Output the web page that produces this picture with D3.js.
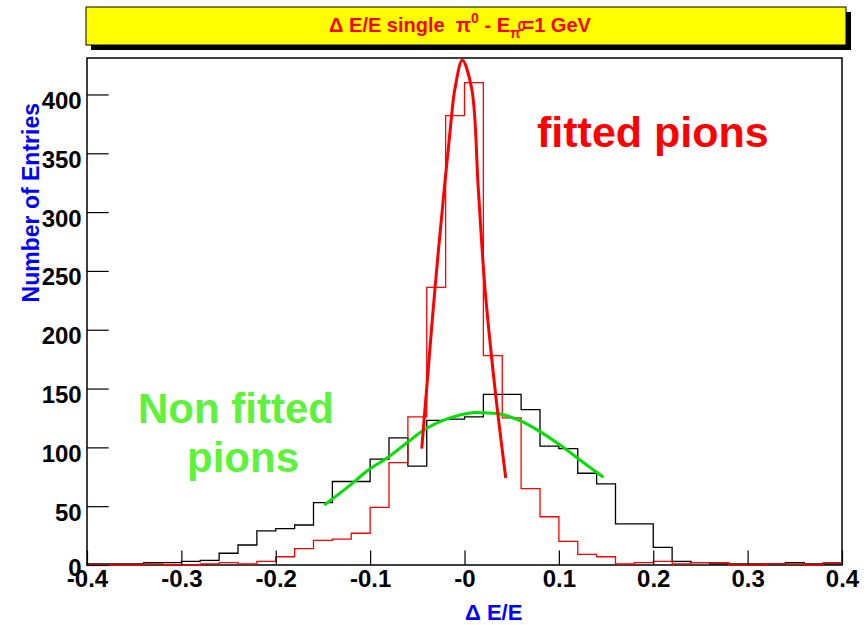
<!DOCTYPE html>
<html><head><meta charset="utf-8">
<script src="https://cdn.jsdelivr.net/npm/d3@7"></script>
<style>
body{margin:0;background:#fff}
svg{display:block}
text{font-family:"Liberation Sans",Arial,Helvetica,sans-serif;font-weight:bold}
</style>
</head><body>
<svg id="c" width="868" height="625"></svg>
<script>
// ---- data ----
const binEdges=[-0.40,-0.38,-0.36,-0.34,-0.32,-0.30,-0.28,-0.26,-0.24,-0.22,-0.20,-0.18,-0.16,-0.14,-0.12,-0.10,-0.08,-0.06,-0.04,-0.02,0.00,0.02,0.04,0.06,0.08,0.10,0.12,0.14,0.16,0.18,0.20,0.22,0.24,0.26,0.28,0.30,0.32,0.34,0.36,0.38,0.40];
const nonFittedCounts=[1,1,1,2,2,3,4,10,17,29,31,34,53,71,71,90,108,84,123,124,126,145,145,132,101,99,78,69,35,35,15,3,2,1,1,1,1,2,1,1];
const fittedCounts=[0,0,0,1,0,0,1,2,1,3,7,14,21,22,27,49,87,126,236,382,410,178,125,65,41,20,9,7,1,2,3,1,2,2,0,0,1,1,0,2];
const redFitX=[-0.0453,-0.0401,-0.0313,-0.0214,-0.0143,-0.0101,-0.0023,0.0076,0.0146,0.0217,0.0323,0.0437];
const redFitY=[99,150,235,320,377,405,429,405,320,235,150,74];
const greenFitX=[-0.1486,-0.1231,-0.1019,-0.0824,-0.0596,-0.0419,-0.0172,0.0076,0.0164,0.0376,0.0588,0.0800,0.1012,0.1224,0.1471];
const greenFitY=[51,66.6,80.8,90.7,104.8,115.4,124.7,129.5,129.5,128.4,122.7,113.4,102,89.3,74.6];
const xTickValues=[-0.4,-0.3,-0.2,-0.1,0,0.1,0.2,0.3,0.4];
const xTickLabels=["-0.4","-0.3","-0.2","-0.1","-0","0.1","0.2","0.3","0.4"];
const yTickValues=[0,50,100,150,200,250,300,350,400];
const yTickLabels=["0","50","100","150","200","250","300","350","400"];

// ---- layout ----
const svg=d3.select("#c");
const L=87,R=842,T=58,B=565;
const x=d3.scaleLinear().domain([-0.4,0.4]).range([L,R]);
const y=d3.scaleLinear().domain([0,431]).range([B,T]);

// title box
const tb={x0:86,y0:7,x1:846,y1:45};
svg.append("rect").attr("x",tb.x0+5).attr("y",tb.y0+5).attr("width",tb.x1-tb.x0).attr("height",tb.y1-tb.y0).attr("fill","#000");
svg.append("rect").attr("x",tb.x0).attr("y",tb.y0).attr("width",tb.x1-tb.x0).attr("height",tb.y1-tb.y0).attr("fill","#ffff00").attr("stroke","#000").attr("stroke-width",1);
const tt=svg.append("text").attr("x",(tb.x0+tb.x1)/2-6).attr("y",32).attr("text-anchor","middle").attr("fill","#ff0000").attr("font-size",20);
tt.append("tspan").text("\u0394 E/E single \u00a0\u03c0");
tt.append("tspan").attr("dy",-9).attr("font-size",14).text("0");
tt.append("tspan").attr("dy",9).text(" - E");
tt.append("tspan").attr("dy",6).attr("font-size",14).text("\u03c0");
tt.append("tspan").attr("dy",-7).attr("dx",-3).attr("font-size",14).text("0");
tt.append("tspan").attr("dy",1).attr("dx",-3).text("=1 GeV");

// frame
svg.append("rect").attr("x",L).attr("y",T).attr("width",R-L).attr("height",B-T).attr("fill","none").attr("stroke","#000").attr("stroke-width",1.5);

// histograms
function histPts(counts){
  const p=[[binEdges[0],0]];
  counts.forEach((v,i)=>{p.push([binEdges[i],v]);p.push([binEdges[i+1],v]);});
  p.push([binEdges[binEdges.length-1],0]);
  return p;
}
const hline=d3.line().x(d=>x(d[0])).y(d=>y(d[1]));
svg.append("path").attr("d",hline(histPts(nonFittedCounts))).attr("fill","none").attr("stroke","#000").attr("stroke-width",1.3);
svg.append("path").attr("d",hline(histPts(fittedCounts))).attr("fill","none").attr("stroke","#ff0000").attr("stroke-width",1.3);

// fits
const cline=d3.line().x(d=>x(d[0])).y(d=>y(d[1])).curve(d3.curveCatmullRom.alpha(0.5));
svg.append("path").attr("d",cline(greenFitX.map((v,i)=>[v,greenFitY[i]]))).attr("fill","none").attr("stroke","#00e000").attr("stroke-width",3);
svg.append("path").attr("d",cline(redFitX.map((v,i)=>[v,redFitY[i]]))).attr("fill","none").attr("stroke","#ff0000").attr("stroke-width",3);

// axes
const gx=svg.append("g").attr("transform",`translate(0,${B})`);
gx.call(d3.axisBottom(x).tickValues(x.ticks(40)).tickSize(-7.5).tickFormat(""));
gx.call(d3.axisBottom(x).tickValues(xTickValues).tickSize(-14.5).tickFormat((d,i)=>xTickLabels[i]));
gx.selectAll(".domain").remove();
gx.selectAll("line").attr("stroke","#000").attr("stroke-width",1.2);
gx.selectAll("text").attr("y",22).attr("dy",0).attr("font-size",24).attr("fill","#000").attr("font-family",'"Liberation Sans",Arial,sans-serif').attr("font-weight","bold");

const gy=svg.append("g").attr("transform",`translate(${L},0)`);
gy.call(d3.axisLeft(y).tickValues(y.ticks(43)).tickSize(-10.8).tickFormat(""));
gy.call(d3.axisLeft(y).tickValues(yTickValues).tickSize(-21.7).tickFormat((d,i)=>yTickLabels[i]));
gy.selectAll(".domain").remove();
gy.selectAll("line").attr("stroke","#000").attr("stroke-width",1.2);
gy.selectAll("text").attr("x",-5.3).attr("dy",0).attr("y",d=>d===0?10:14).attr("font-size",24).attr("fill","#000").attr("font-family",'"Liberation Sans",Arial,sans-serif').attr("font-weight","bold");

// axis titles
svg.append("text").attr("x",465).attr("y",620).attr("fill","#0000ff").attr("font-size",22).text("\u0394 E/E");
svg.append("text").attr("transform","translate(38.5,103) rotate(-90)").attr("text-anchor","end").attr("fill","#0000ff").attr("font-size",23).text("Number of Entries");

// annotations
svg.append("text").attr("x",537).attr("y",147).attr("fill","#ff0000").attr("font-size",43).text("fitted pions");
svg.append("text").attr("x",138).attr("y",423).attr("fill","#5ef23a").attr("font-size",42).text("Non fitted");
svg.append("text").attr("x",187).attr("y",472).attr("fill","#5ef23a").attr("font-size",42).text("pions");
</script>
</body></html>
